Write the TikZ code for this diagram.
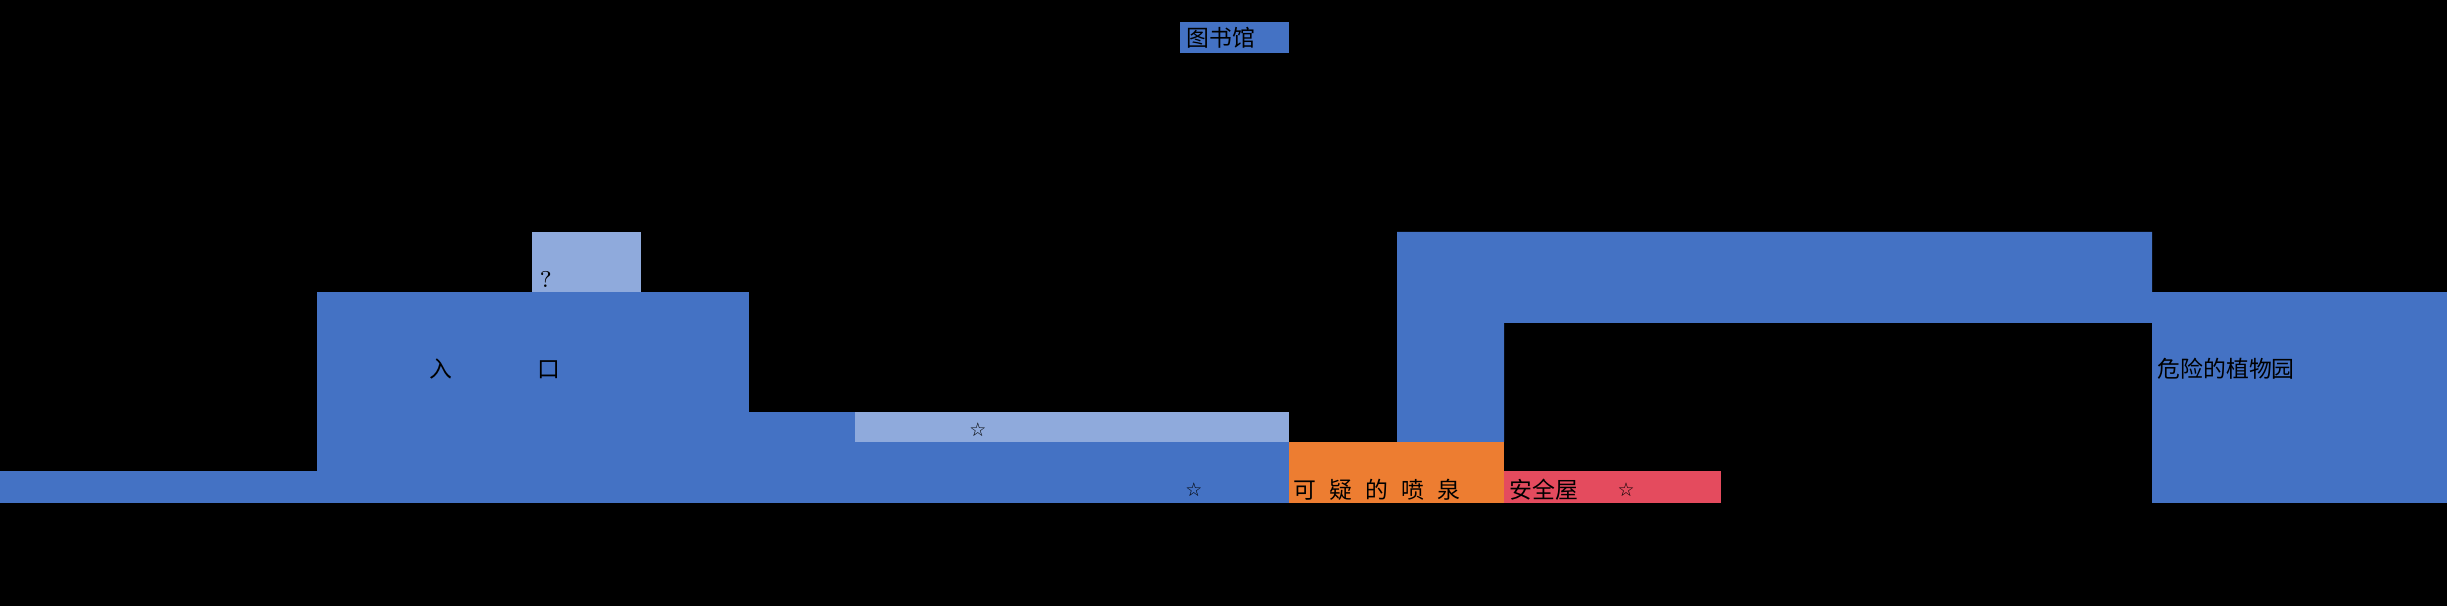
\documentclass[tikz,border=0pt]{standalone}
\usepackage{fontspec}
\usepackage{xcolor}
\newfontfamily\cjk{Noto Sans CJK SC}
\newfontfamily\symb{DejaVu Sans}
\definecolor{roomblue}{RGB}{68,114,196}
\definecolor{roomlight}{RGB}{143,170,220}
\definecolor{roomorange}{RGB}{237,125,49}
\definecolor{roomred}{RGB}{228,75,94}
\newcommand{\roomgap}{\hspace{1.3mm}}
\tikzset{
  room/.style={fill=roomblue},
  lbl/.style={inner sep=0pt,anchor=west,text=black,
              font=\cjk\fontsize{6.5}{7}\selectfont},
  starmark/.style={inner sep=0pt,text=black,font=\symb\fontsize{5.4}{6}\selectfont},
}

\begin{document}
\begin{tikzpicture}[x=0.1mm,y=-0.1mm]
  \fill[black] (0,0) rectangle (2447,606);
  \useasboundingbox (0,0) rectangle (2447,606);
  % rooms
  \fill[room] (1180,22) rectangle (1289,53);
  \fill[room] (0,471) rectangle (317,503);
  \fill[room] (317,292) rectangle (749,503);
  \fill[roomlight] (532,232) rectangle (641,292);
  \fill[room] (749,412) rectangle (1289,503);
  \fill[roomlight] (855,412) rectangle (1289,442);
  \fill[roomorange] (1289,442) rectangle (1504,503);
  \fill[roomred] (1504,471) rectangle (1721,503);
  \fill[room] (1397,442) -- (1397,232) -- (2152,232) -- (2152,323)
    -- (1504,323) -- (1504,442) -- cycle;
  \fill[room] (2152,292) rectangle (2447,503);
  % labels
  \node[lbl] (library)  at (1186,38)  {图书馆};
  \node[lbl,font=\rmfamily\fontsize{6.5}{7}\selectfont] (mystery) at (539,279) {?};
  \node[lbl] (entrance) at (429,369)  {入\hspace{8.5mm}口};
  \node[lbl] (fountain) at (1293,490) {可\roomgap 疑\roomgap 的\roomgap 喷\roomgap 泉};
  \node[lbl] (safe)     at (1509,490) {安全屋};
  \node[lbl] (garden)   at (2157,369) {危险的植物园};
  \foreach \n/\p in {corridor/{978,430},hall/{1194,490},shelter/{1626,490}}
    \node[starmark] (star-\n) at (\p) {☆};
\end{tikzpicture}
\end{document}
